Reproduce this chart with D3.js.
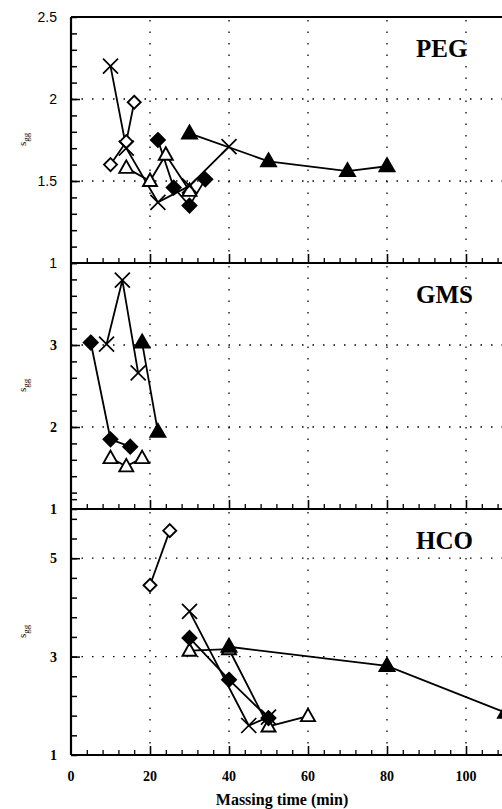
<!DOCTYPE html>
<html>
<head>
<meta charset="utf-8">
<script src="https://cdn.jsdelivr.net/npm/d3@7"></script>
<style>
body{margin:0;background:#fff;}
svg{display:block;}
</style>
</head>
<body>
<div id="chart"></div>
<script>
// values (x = massing time in min, y = s_gg)
const pegCross = [[10,2.2],[14,1.7],[22,1.37],[30,1.47],[40,1.71]];
const pegOpenDiamond = [[10,1.6],[14,1.74],[16,1.98]];
const pegOpenTriangle = [[14,1.58],[20,1.5],[24,1.66],[30,1.44]];
const pegDiamond = [[22,1.75],[26,1.46],[30,1.35],[34,1.51]];
const pegTriangle = [[30,1.79],[50,1.62],[70,1.56],[80,1.59]];

const gmsOpenTriangle = [[10,1.62],[14,1.52],[18,1.62]];
const gmsDiamond = [[5,3.03],[10,1.85],[15,1.76]];
const gmsCross = [[9,3.01],[13,3.79],[17,2.66]];
const gmsTriangle = [[18,3.03],[22,1.94]];

const hcoOpenDiamond = [[20,4.45],[25,5.56]];
const hcoOpenTriangle = [[30,3.12],[40,3.15],[50,1.58],[60,1.79]];
const hcoDiamond = [[30,3.38],[40,2.53],[50,1.75]];
const hcoCross = [[30,3.92],[45,1.6],[50,1.77]];
const hcoTriangle = [[40,3.2],[80,2.81],[110,1.86]];

const xTicks = [0,20,40,60,80,100];
const panelNames = ["PEG","GMS","HCO"];
const yDomains = [[1,2.5],[1,4],[1,6]];
const yLabelTicks = [[1,1.5,2,2.5],[1,2,3],[1,3,5]];
const yGridTicks = [[1.5,2],[2,3],[3,5]];
const yMinorSteps = [0.1,0.2,0.4];

const panelSeries = [
    [["openDiamond",pegOpenDiamond],["openTriangle",pegOpenTriangle],["cross",pegCross],["diamond",pegDiamond],["triangle",pegTriangle]],
    [["openTriangle",gmsOpenTriangle],["diamond",gmsDiamond],["cross",gmsCross],["triangle",gmsTriangle]],
    [["openDiamond",hcoOpenDiamond],["openTriangle",hcoOpenTriangle],["diamond",hcoDiamond],["cross",hcoCross],["triangle",hcoTriangle]]
];

const width = 502;
const height = 809;
const left = 71;
const top0 = 17;
const panelH = 246;
const serif = "'Liberation Serif','Times New Roman',serif";

const svg = d3.select("#chart")
    .append("svg")
    .attr("width", width)
    .attr("height", height);

const x = d3.scaleLinear().domain([0,120]).range([left, left + 120*3.95]);

const shapes = {
    diamond: "M0,-7L7,0L0,7L-7,0Z",
    openDiamond: "M0,-6.5L6.5,0L0,6.5L-6.5,0Z",
    triangle: "M0,-8L7.5,5L-7.5,5Z",
    openTriangle: "M0,-7.5L7,5L-7,5Z",
    cross: "M-7.5,-7.5L7.5,7.5M7.5,-7.5L-7.5,7.5"
};

// top frame line
svg.append("line")
    .attr("x1", left).attr("x2", width)
    .attr("y1", top0).attr("y2", top0)
    .style("stroke", "#000").style("stroke-width", 2);

panelNames.forEach(function(name, i){
    const yTop = top0 + i*panelH;
    const yBot = yTop + panelH;
    const y = d3.scaleLinear().domain(yDomains[i]).range([yBot, yTop]);
    const g = svg.append("g");

    // dotted grid
    g.selectAll(".vgrid")
        .data(xTicks.filter(d => d > 0))
        .enter().append("line")
        .attr("x1", d => x(d)).attr("x2", d => x(d))
        .attr("y1", yTop + 3).attr("y2", yBot - 2)
        .style("stroke", "#000").style("stroke-width", 1.3)
        .style("stroke-dasharray", "1.5,10");
    g.selectAll(".hgrid")
        .data(yGridTicks[i])
        .enter().append("line")
        .attr("x1", left).attr("x2", width)
        .attr("y1", d => y(d)).attr("y2", d => y(d))
        .style("stroke", "#000").style("stroke-width", 1.3)
        .style("stroke-dasharray", "1.5,9");

    // y ticks, pointing inward
    const lo = yDomains[i][0], hi = yDomains[i][1], st = yMinorSteps[i];
    const minor = d3.range(0, Math.round((hi - lo)/st) + 1).map(k => lo + k*st);
    g.append("g")
        .attr("transform", `translate(${left},0)`)
        .call(d3.axisLeft(y).tickValues(minor).tickSize(-6).tickFormat(""))
        .call(a => a.select(".domain").remove())
        .selectAll("line").style("stroke-width", 1.5);
    g.append("g")
        .attr("transform", `translate(${left},0)`)
        .call(d3.axisLeft(y).tickValues(yGridTicks[i]).tickSize(-9).tickFormat(""))
        .call(a => a.select(".domain").remove())
        .selectAll("line").style("stroke-width", 1.5);

    // y labels
    g.selectAll(".ylab")
        .data(yLabelTicks[i].filter(d => i == 0 || d < hi))
        .enter().append("text")
        .attr("x", 57)
        .attr("y", d => y(d) + 5)
        .attr("text-anchor", "end")
        .style("font-family", i == 0 ? "'Liberation Sans',Arial,sans-serif" : serif)
        .style("font-weight", i == 0 ? "normal" : "bold")
        .style("font-size", "14px")
        .text(d => d);

    // x ticks, pointing up from the bottom line
    g.append("g")
        .attr("transform", `translate(0,${yBot})`)
        .call(d3.axisBottom(x).tickValues(d3.range(4, 120, 4).filter(d => d % 20 != 0)).tickSize(-5).tickFormat(""))
        .call(a => a.select(".domain").remove())
        .selectAll("line").style("stroke-width", 1.3);
    g.append("g")
        .attr("transform", `translate(0,${yBot})`)
        .call(d3.axisBottom(x).tickValues(xTicks.filter(d => d > 0)).tickSize(-9).tickFormat(""))
        .call(a => a.select(".domain").remove())
        .selectAll("line").style("stroke-width", 1.6);

    // frame
    g.append("line")
        .attr("x1", left).attr("x2", width)
        .attr("y1", yBot).attr("y2", yBot)
        .style("stroke", "#000").style("stroke-width", 2.2);
    g.append("line")
        .attr("x1", left).attr("x2", left)
        .attr("y1", yTop).attr("y2", yBot)
        .style("stroke", "#000").style("stroke-width", 2.2);

    // axis title
    const yt = g.append("text")
        .attr("transform", `translate(26,${(yTop + yBot)/2 + 6}) rotate(-90)`)
        .style("font-family", serif)
        .style("font-size", "11px");
    yt.append("tspan").text("s");
    yt.append("tspan").attr("dy", 3).style("font-size", "9px").text("gg");

    // panel name
    g.append("text")
        .attr("x", 416)
        .attr("y", yTop + 40)
        .style("font-family", serif)
        .style("font-weight", "bold")
        .style("font-size", "25px")
        .text(name);

    // series
    const line = d3.line().x(d => x(d[0])).y(d => y(d[1]));
    panelSeries[i].forEach(function(s){
        g.append("path")
            .datum(s[1])
            .attr("d", line)
            .style("fill", "none")
            .style("stroke", "#000")
            .style("stroke-width", 1.8);
    });
    panelSeries[i].forEach(function(s){
        const kind = s[0];
        g.selectAll(null)
            .data(s[1])
            .enter().append("path")
            .attr("transform", d => `translate(${x(d[0])},${y(d[1])})`)
            .attr("d", shapes[kind])
            .style("fill", kind == "diamond" || kind == "triangle" ? "#000" : (kind == "cross" ? "none" : "#fff"))
            .style("stroke", "#000")
            .style("stroke-width", kind == "cross" ? 1.7 : 1.9);
    });
});

// x labels
svg.selectAll(".xlab")
    .data(xTicks)
    .enter().append("text")
    .attr("x", d => x(d))
    .attr("y", 781)
    .attr("text-anchor", "middle")
    .style("font-family", serif)
    .style("font-weight", "bold")
    .style("font-size", "14px")
    .text(d => d);

svg.append("text")
    .attr("x", 282)
    .attr("y", 805)
    .attr("text-anchor", "middle")
    .style("font-family", serif)
    .style("font-weight", "bold")
    .style("font-size", "16px")
    .text("Massing time (min)");
</script>
</body>
</html>
